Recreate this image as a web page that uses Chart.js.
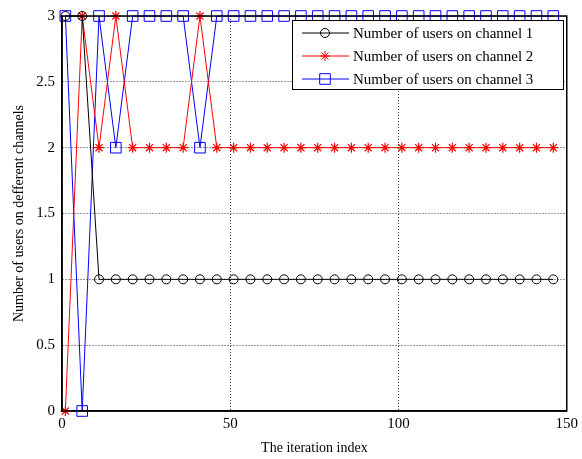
<!DOCTYPE html>
<html>
<head>
<meta charset="utf-8">
<script src="https://cdn.jsdelivr.net/npm/chart.js@4/dist/chart.umd.min.js"></script>
<style>
  html, body { margin: 0; padding: 0; background: #fff; }
  #wrap { width: 582px; height: 459px; }
</style>
</head>
<body>
<div id="wrap"><canvas id="users-chart" width="582" height="459"></canvas></div>
<script>
const iterations = [1, 6, 11, 16, 21, 26, 31, 36, 41, 46, 51, 56, 61, 66, 71, 76, 81, 86, 91, 96, 101, 106, 111, 116, 121, 126, 131, 136, 141, 146]
const channel_1 = [3, 3, 1, 1, 1, 1, 1, 1, 1, 1, 1, 1, 1, 1, 1, 1, 1, 1, 1, 1, 1, 1, 1, 1, 1, 1, 1, 1, 1, 1]
const channel_2 = [0, 3, 2, 3, 2, 2, 2, 2, 3, 2, 2, 2, 2, 2, 2, 2, 2, 2, 2, 2, 2, 2, 2, 2, 2, 2, 2, 2, 2, 2]
const channel_3 = [3, 0, 3, 2, 3, 3, 3, 3, 2, 3, 3, 3, 3, 3, 3, 3, 3, 3, 3, 3, 3, 3, 3, 3, 3, 3, 3, 3, 3, 3]
const series_names = ['Number of users on channel 1', 'Number of users on channel 2', 'Number of users on channel 3']
const x_ticks = [0, 50, 100, 150]
const y_ticks = [0, 0.5, 1, 1.5, 2, 2.5, 3]

const serif = "'Liberation Serif', 'Times New Roman', serif"

function to_points(values) {
    return values.map((v, i) => ({x: iterations[i], y: v}))
}

// box round the plot and the legend inside it
const frame_plugin = {
    id: 'frame',
    afterDatasetsDraw(chart) {
        let ctx = chart.ctx
        let a = chart.chartArea
        ctx.save()
        ctx.strokeStyle = '#000'
        ctx.lineWidth = 1.5
        ctx.strokeRect(a.left, a.top, a.right - a.left, a.bottom - a.top)

        // legend
        let bx = 292, by = 20, bw = 271, bh = 69
        ctx.fillStyle = '#fff'
        ctx.fillRect(bx, by, bw, bh)
        ctx.lineWidth = 1
        ctx.strokeRect(bx + 0.5, by + 0.5, bw, bh)
        ctx.font = '15px ' + serif
        ctx.textBaseline = 'middle'
        chart.data.datasets.forEach((ds, i) => {
            let yy = by + 13 + i * 23
            ctx.strokeStyle = ds.borderColor
            ctx.fillStyle = 'rgba(0,0,0,0)'
            ctx.lineWidth = 1
            ctx.beginPath()
            ctx.moveTo(302, yy)
            ctx.lineTo(349, yy)
            ctx.stroke()
            ctx.fillStyle = 'rgba(0,0,0,0)'
            Chart.helpers.drawPoint(ctx, {
                pointStyle: ds.pointStyle,
                radius: ds.pointRadius,
                borderWidth: 1
            }, 325, yy)
            ctx.fillStyle = '#000'
            ctx.fillText(ds.label, 353, yy + 1)
        })
        ctx.restore()
    }
}

function set_up_chart() {
    const data = {
        datasets: [
            {
                label: series_names[0],
                data: to_points(channel_1),
                borderColor: '#000',
                backgroundColor: 'rgba(0,0,0,0)',
                pointStyle: 'circle',
                pointRadius: 4.5,
                borderWidth: 1,
                pointBorderWidth: 1,
                clip: false
            }, {
                label: series_names[1],
                data: to_points(channel_2),
                borderColor: '#ff0000',
                backgroundColor: 'rgba(0,0,0,0)',
                pointStyle: 'star',
                pointRadius: 5,
                borderWidth: 1,
                pointBorderWidth: 1.2,
                clip: false
            }, {
                label: series_names[2],
                data: to_points(channel_3),
                borderColor: '#0000ff',
                backgroundColor: 'rgba(0,0,0,0)',
                pointStyle: 'rect',
                pointRadius: 7.5,
                borderWidth: 1,
                pointBorderWidth: 1,
                clip: false
            },
        ]
    }

    const config = {
        type: 'line',
        data: data,
        plugins: [frame_plugin],
        options: {
            responsive: false,
            animation: false,
            events: [],
            layout: {padding: {top: 12, right: 14, left: 0, bottom: 0}},
            plugins: {
                legend: {display: false},
                tooltip: {enabled: false}
            },
            scales: {
                x: {
                    type: 'linear',
                    min: 0,
                    max: 150,
                    afterBuildTicks: (s) => { s.ticks = x_ticks.map(v => ({value: v})) },
                    afterFit: (s) => { s.height = 48 },
                    grid: {color: '#000', lineWidth: 0.8, drawTicks: false},
                    border: {display: true, color: '#000', width: 1.5, dash: [1, 2]},
                    ticks: {color: '#000', padding: 4, font: {family: serif, size: 15}, maxRotation: 0,
                        callback: (v) => String(v)},
                    title: {display: true, text: 'The iteration index', color: '#000',
                        font: {family: serif, size: 14}, padding: {top: 0, bottom: 2}}
                },
                y: {
                    type: 'linear',
                    min: 0,
                    max: 3,
                    afterBuildTicks: (s) => { s.ticks = y_ticks.map(v => ({value: v})) },
                    afterFit: (s) => { s.width = 62 },
                    grid: {color: '#000', lineWidth: 0.8, drawTicks: false},
                    border: {display: true, color: '#000', width: 1.5, dash: [1, 2]},
                    ticks: {color: '#000', padding: 7, font: {family: serif, size: 15},
                        callback: (v) => String(v)},
                    title: {display: true, text: 'Number of users on defferent channels', color: '#000',
                        font: {family: serif, size: 14}, padding: {top: 11, bottom: 0}}
                }
            }
        }
    }

    let my_chart = document.querySelector('#users-chart')
    let crt = new Chart(my_chart, config)
}

set_up_chart()
</script>
</body>
</html>
